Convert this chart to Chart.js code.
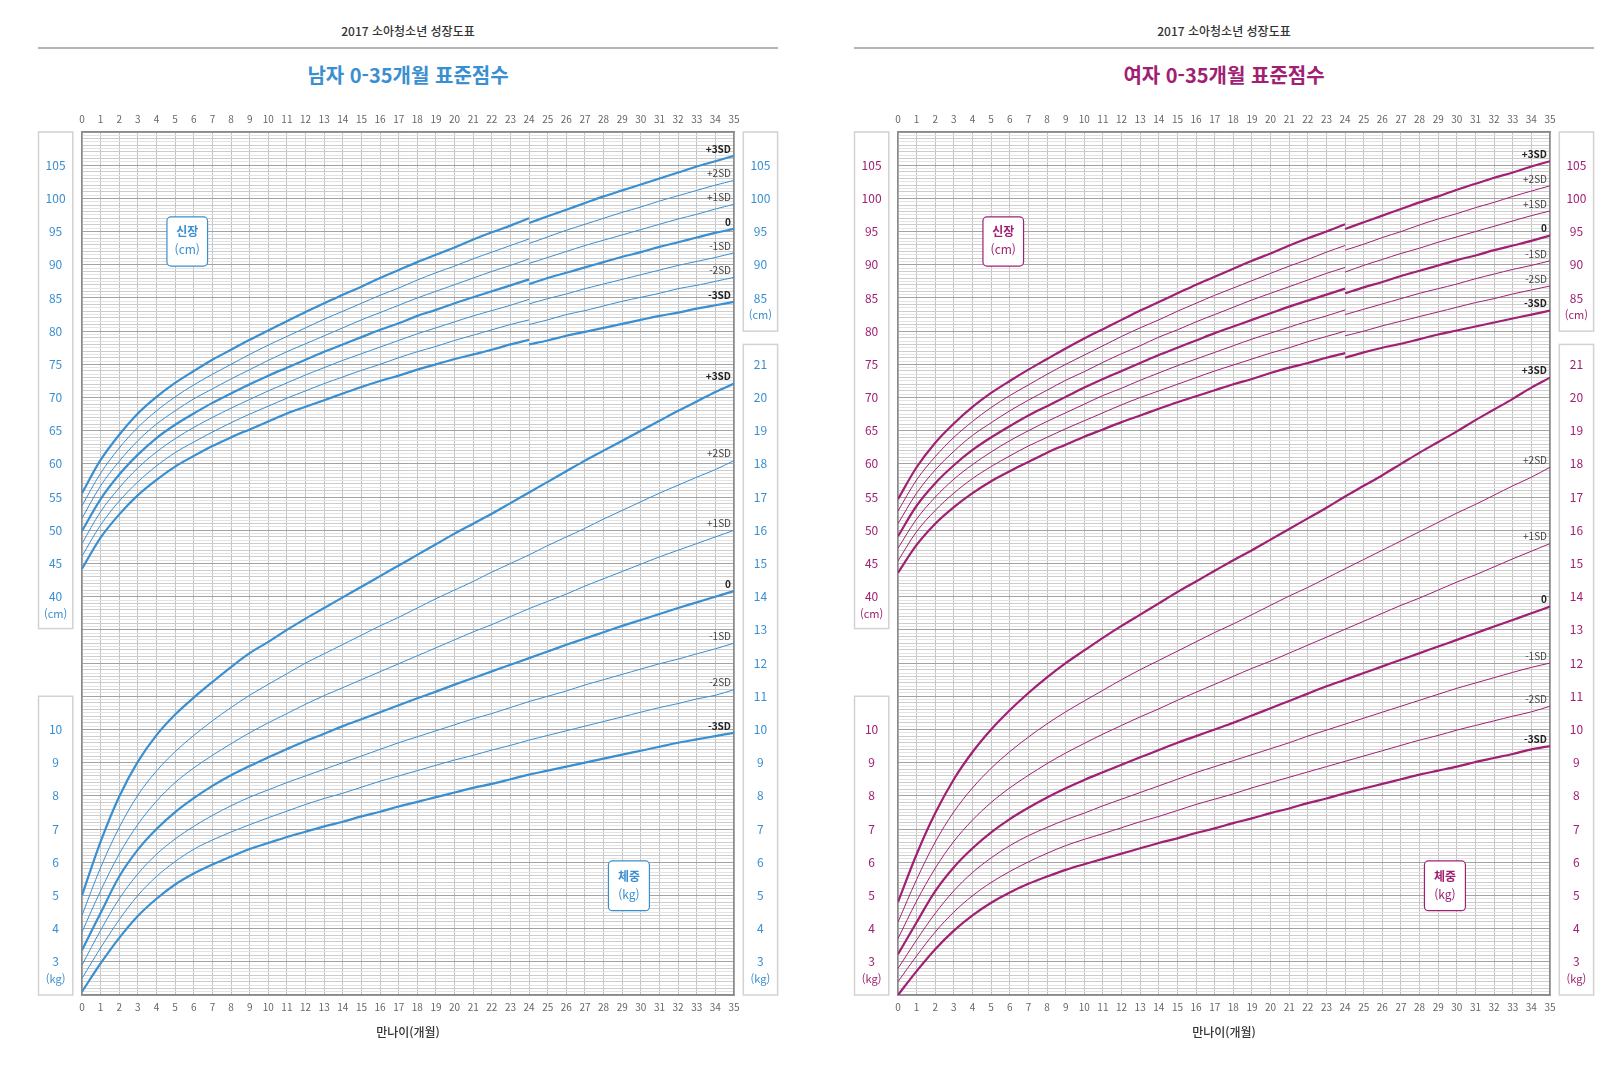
<!DOCTYPE html>
<html lang="ko">
<head>
<meta charset="utf-8">
<title>2017 소아청소년 성장도표</title>
<script src="https://cdn.jsdelivr.net/npm/chart.js@4.4.1/dist/chart.umd.min.js"></script>
<style>
  html, body { margin: 0; padding: 0; background: #fff; }
  body { width: 1623px; height: 1080px; position: relative; overflow: hidden;
         font-family: "Noto Sans CJK KR", "Noto Sans", sans-serif; }
  .panel { position: absolute; top: 0; width: 800px; height: 1080px; }
  .panel canvas { position: absolute; left: 0; top: 0; }
  .head { position: absolute; left: 0; width: 816px; top: 21.5px; height: 18px; line-height: 18px;
          font-size: 12px; font-weight: 500; color: #333; text-align: center; }
  .rule { position: absolute; left: 38px; width: 740px; top: 46.5px; height: 2px; background: #b4b4b4; }
  .sub { position: absolute; left: 0; width: 816px; top: 61px; height: 28px; line-height: 28px;
         font-size: 20px; font-weight: 700; text-align: center; }
</style>
</head>
<body>
<div class="panel" style="left:0">
  <div class="head">2017 소아청소년 성장도표</div>
  <div class="rule"></div>
  <div class="sub" style="color:#3a8fd0">남자 0-35개월 표준점수</div>
  <canvas id="boys" width="800" height="1080"></canvas>
</div>
<div class="panel" style="left:816px">
  <div class="head">2017 소아청소년 성장도표</div>
  <div class="rule"></div>
  <div class="sub" style="color:#a02073">여자 0-35개월 표준점수</div>
  <canvas id="girls" width="800" height="1080"></canvas>
</div>
<script>
// months on the x axis
const MONTHS = [0,1,2,3,4,5,6,7,8,9,10,11,12,13,14,15,16,17,18,19,20,21,22,23,24,25,26,27,28,29,30,31,32,33,34,35];
const LEN_MONTHS = [0,1,2,3,4,5,6,7,8,9,10,11,12,13,14,15,16,17,18,19,20,21,22,23,24];
const HT_MONTHS = [24,25,26,27,28,29,30,31,32,33,34,35];
const SD_NAMES = ['-3SD','-2SD','-1SD','0','+1SD','+2SD','+3SD'];

// boys, length 0-24 months (cm), rows -3SD .. +3SD
const boysLength = [
  [44.2,48.9,52.4,55.3,57.6,59.6,61.2,62.7,64.0,65.2,66.4,67.6,68.6,69.6,70.6,71.6,72.5,73.3,74.2,75.0,75.8,76.5,77.2,78.0,78.7],
  [46.1,50.8,54.4,57.3,59.7,61.7,63.3,64.8,66.2,67.5,68.7,69.9,71.0,72.1,73.1,74.1,75.0,76.0,76.9,77.7,78.6,79.4,80.2,81.0,81.7],
  [48.0,52.8,56.4,59.4,61.8,63.8,65.5,67.0,68.4,69.7,71.0,72.2,73.4,74.5,75.6,76.6,77.6,78.6,79.6,80.5,81.4,82.3,83.1,83.9,84.8],
  [49.9,54.7,58.4,61.4,63.9,65.9,67.6,69.2,70.6,72.0,73.3,74.5,75.7,76.9,78.0,79.1,80.2,81.2,82.3,83.2,84.2,85.1,86.0,86.9,87.8],
  [51.8,56.7,60.4,63.5,66.0,68.0,69.8,71.3,72.8,74.2,75.6,76.9,78.1,79.3,80.5,81.7,82.8,83.9,85.0,86.0,87.0,88.0,89.0,89.9,90.9],
  [53.7,58.6,62.4,65.5,68.0,70.1,71.9,73.5,75.0,76.5,77.9,79.2,80.5,81.8,83.0,84.2,85.4,86.5,87.7,88.8,89.8,90.9,91.9,92.9,93.9],
  [55.6,60.6,64.4,67.6,70.1,72.2,74.0,75.7,77.2,78.7,80.1,81.5,82.9,84.2,85.5,86.7,88.0,89.2,90.4,91.5,92.6,93.8,94.9,95.9,97.0]
];
// boys, height 24-35 months (cm)
const boysHeight = [
  [78.0,78.6,79.3,79.9,80.5,81.1,81.7,82.3,82.8,83.4,83.9,84.4],
  [81.0,81.7,82.5,83.1,83.8,84.5,85.1,85.7,86.4,86.9,87.5,88.1],
  [84.1,84.9,85.6,86.4,87.1,87.8,88.5,89.2,89.9,90.5,91.1,91.8],
  [87.1,88.0,88.8,89.6,90.4,91.2,91.9,92.7,93.4,94.1,94.8,95.4],
  [90.2,91.1,92.0,92.9,93.7,94.5,95.3,96.1,96.9,97.6,98.4,99.1],
  [93.2,94.2,95.2,96.1,97.0,97.9,98.7,99.6,100.4,101.2,102.0,102.7],
  [96.3,97.3,98.3,99.3,100.3,101.2,102.1,103.0,103.9,104.8,105.6,106.4]
];
// boys, weight 0-35 months (kg)
const boysWeight = [
  [2.10,2.95,3.72,4.38,4.90,5.33,5.66,5.93,6.17,6.40,6.58,6.76,6.92,7.08,7.22,7.38,7.52,7.68,7.82,7.96,8.10,8.24,8.36,8.50,8.64,8.76,8.88,9.00,9.12,9.24,9.36,9.48,9.60,9.70,9.80,9.90],
  [2.50,3.42,4.27,5.00,5.57,6.02,6.39,6.67,6.91,7.13,7.34,7.54,7.74,7.92,8.08,8.26,8.44,8.60,8.76,8.92,9.08,9.22,9.38,9.52,9.68,9.82,9.96,10.10,10.24,10.38,10.52,10.66,10.78,10.92,11.03,11.20],
  [2.90,3.95,4.90,5.65,6.24,6.70,7.08,7.41,7.70,7.96,8.18,8.40,8.60,8.80,9.00,9.20,9.40,9.60,9.78,9.96,10.14,10.32,10.48,10.66,10.84,11.00,11.16,11.34,11.50,11.66,11.82,11.98,12.12,12.28,12.43,12.60],
  [3.35,4.47,5.57,6.38,7.00,7.51,7.93,8.30,8.62,8.90,9.16,9.41,9.65,9.87,10.10,10.31,10.52,10.73,10.94,11.14,11.35,11.55,11.75,11.95,12.15,12.35,12.55,12.74,12.93,13.12,13.30,13.48,13.66,13.83,14.00,14.17],
  [3.90,5.14,6.25,7.14,7.84,8.40,8.84,9.22,9.57,9.90,10.20,10.48,10.76,11.02,11.26,11.50,11.74,11.98,12.22,12.46,12.70,12.94,13.16,13.40,13.64,13.86,14.08,14.32,14.54,14.76,14.98,15.20,15.40,15.60,15.80,16.00],
  [4.40,5.84,7.05,8.02,8.75,9.33,9.82,10.26,10.66,11.03,11.36,11.68,12.00,12.28,12.56,12.84,13.12,13.38,13.66,13.94,14.20,14.46,14.74,15.00,15.26,15.54,15.80,16.06,16.34,16.60,16.86,17.12,17.36,17.60,17.83,18.10],
  [5.00,6.62,7.98,9.03,9.83,10.45,10.96,11.43,11.88,12.30,12.64,13.00,13.34,13.66,13.98,14.30,14.62,14.94,15.26,15.58,15.90,16.20,16.50,16.82,17.14,17.46,17.78,18.10,18.40,18.70,19.00,19.30,19.60,19.88,20.17,20.42]
];

// girls, length 0-24 months (cm)
const girlsLength = [
  [43.6,47.8,51.0,53.5,55.6,57.4,58.9,60.3,61.7,62.9,64.1,65.2,66.3,67.3,68.3,69.3,70.2,71.1,72.0,72.8,73.7,74.5,75.2,76.0,76.7],
  [45.4,49.8,53.0,55.6,57.8,59.6,61.2,62.7,64.0,65.3,66.5,67.7,68.9,70.0,71.0,72.0,73.0,74.0,74.9,75.8,76.7,77.5,78.4,79.2,80.0],
  [47.3,51.7,55.0,57.7,59.9,61.8,63.5,65.0,66.4,67.7,69.0,70.3,71.4,72.6,73.7,74.8,75.8,76.8,77.8,78.8,79.7,80.6,81.5,82.3,83.2],
  [49.1,53.7,57.1,59.8,62.1,64.0,65.7,67.3,68.7,70.1,71.5,72.8,74.0,75.2,76.4,77.5,78.6,79.7,80.7,81.7,82.7,83.7,84.6,85.5,86.4],
  [51.0,55.6,59.1,61.9,64.3,66.2,68.0,69.6,71.1,72.6,73.9,75.3,76.6,77.8,79.1,80.2,81.4,82.5,83.6,84.7,85.7,86.7,87.7,88.7,89.6],
  [52.9,57.6,61.1,64.0,66.4,68.5,70.3,71.9,73.5,75.0,76.4,77.8,79.2,80.5,81.7,83.0,84.2,85.4,86.5,87.6,88.7,89.8,90.8,91.9,92.9],
  [54.7,59.5,63.2,66.1,68.6,70.7,72.5,74.2,75.8,77.4,78.9,80.3,81.7,83.1,84.4,85.7,87.0,88.2,89.4,90.6,91.7,92.9,94.0,95.0,96.1]
];
// girls, height 24-35 months (cm)
const girlsHeight = [
  [76.0,76.8,77.5,78.1,78.8,79.5,80.1,80.7,81.3,81.9,82.5,83.1],
  [79.3,80.0,80.8,81.5,82.2,82.9,83.6,84.3,84.9,85.6,86.2,86.8],
  [82.5,83.3,84.1,84.9,85.7,86.4,87.1,87.9,88.6,89.3,89.9,90.6],
  [85.7,86.6,87.4,88.3,89.1,89.9,90.7,91.4,92.2,92.9,93.6,94.4],
  [88.9,89.9,90.8,91.7,92.5,93.4,94.2,95.0,95.8,96.6,97.4,98.1],
  [92.2,93.1,94.1,95.0,96.0,96.9,97.7,98.6,99.4,100.3,101.1,101.9],
  [95.4,96.4,97.4,98.4,99.4,100.3,101.3,102.2,103.1,103.9,104.8,105.6]
];
// girls, weight 0-35 months (kg)
const girlsWeight = [
  [2.00,2.72,3.38,3.94,4.40,4.78,5.09,5.35,5.57,5.77,5.94,6.10,6.26,6.42,6.58,6.72,6.88,7.02,7.18,7.32,7.48,7.62,7.78,7.92,8.08,8.22,8.36,8.50,8.64,8.76,8.88,9.02,9.14,9.26,9.40,9.50],
  [2.40,3.18,3.90,4.50,4.99,5.39,5.72,6.01,6.27,6.50,6.69,6.86,7.04,7.22,7.38,7.56,7.74,7.90,8.06,8.24,8.40,8.56,8.72,8.88,9.04,9.20,9.36,9.52,9.68,9.82,9.98,10.12,10.26,10.40,10.53,10.70],
  [2.80,3.66,4.46,5.14,5.69,6.13,6.50,6.80,7.05,7.28,7.48,7.70,7.90,8.10,8.30,8.50,8.70,8.88,9.06,9.24,9.42,9.60,9.80,9.98,10.16,10.34,10.52,10.70,10.88,11.06,11.24,11.40,11.56,11.72,11.87,12.00],
  [3.23,4.19,5.13,5.85,6.42,6.90,7.30,7.64,7.95,8.23,8.48,8.71,8.94,9.16,9.38,9.60,9.80,10.00,10.20,10.42,10.64,10.86,11.08,11.30,11.50,11.70,11.90,12.10,12.30,12.50,12.70,12.90,13.10,13.30,13.50,13.70],
  [3.70,4.83,5.82,6.63,7.27,7.80,8.24,8.62,8.97,9.29,9.58,9.86,10.12,10.38,10.62,10.88,11.12,11.36,11.60,11.84,12.06,12.30,12.54,12.78,13.02,13.26,13.50,13.74,13.96,14.20,14.44,14.66,14.90,15.14,15.37,15.60],
  [4.20,5.48,6.61,7.52,8.24,8.83,9.33,9.77,10.17,10.53,10.86,11.18,11.50,11.80,12.08,12.36,12.64,12.92,13.18,13.46,13.74,14.02,14.28,14.56,14.84,15.12,15.40,15.68,15.96,16.24,16.52,16.78,17.06,17.34,17.60,17.90],
  [4.80,6.24,7.48,8.50,9.32,10.00,10.58,11.10,11.57,12.00,12.38,12.76,13.12,13.46,13.80,14.14,14.46,14.78,15.10,15.40,15.72,16.04,16.36,16.68,17.02,17.34,17.66,18.00,18.34,18.66,18.98,19.32,19.64,19.96,20.30,20.60]
];

// axis ranges: one grid, 5 cm = 1 kg
const HEIGHT_MIN = -20, HEIGHT_MAX = 110;
const WEIGHT_MIN = 2, WEIGHT_MAX = 28;

const FONT = '"Noto Sans CJK KR", "Noto Sans", sans-serif';
Chart.defaults.font.family = FONT;

const AXW = 44;          // width of each side axis
const GRID_MONTH = '#c2c2c2';
const FRAME = '#8a8a8a';

function halfCmColor(ctx) {
  const k = Math.round(ctx.tick.value * 2);
  if (k % 10 === 0) return '#a3a3a3';
  if (k % 2 === 0) return '#cdcdcd';
  return '#e3e3e3';
}

// label of the left axis: cm on top, kg below
function leftLabel(v) {
  const k = Math.round(v * 2);
  if (k % 10 !== 0) return '';
  const h = k / 2;
  if (h >= 40 && h <= 105) return String(h);
  if (h >= -15 && h <= 20) return String((h + 30) / 5);
  return '';
}
// label of the right axis (kg units): kg low, cm high
function rightLabel(w) {
  const r = Math.round(w);
  if (r >= 3 && r <= 21) return String(r);
  if (r >= 23 && r <= 27) return String(r * 5 - 30);
  return '';
}

const sideBoxes = {
  id: 'sideBoxes',
  beforeDraw(chart) {
    const { ctx, chartArea: a, scales } = chart;
    const yh = scales.y, yw = scales.y2;
    const th = chart.options.plugins.sideBoxes;
    const boxes = [
      [a.left - 43.5, a.top, yh.getPixelForValue(35.2)],
      [a.left - 43.5, yw.getPixelForValue(11.0), a.bottom],
      [a.right + 9.3, a.top, yh.getPixelForValue(80.0)],
      [a.right + 9.3, yw.getPixelForValue(21.6), a.bottom]
    ];
    ctx.save();
    ctx.strokeStyle = '#d2d2d2';
    ctx.lineWidth = 1.5;
    boxes.forEach(([x, t, b]) => {
      ctx.fillStyle = '#fff';
      ctx.fillRect(x, t, 34.3, b - t);
      ctx.strokeRect(x, t, 34.3, b - t);
    });
    // unit captions under the last numbers
    ctx.fillStyle = th.color;
    ctx.font = '11px ' + FONT;
    ctx.textAlign = 'center';
    ctx.textBaseline = 'middle';
    const lx = a.left - 26.4, rx = a.right + 26.4;
    ctx.fillText('(cm)', lx, yh.getPixelForValue(40) + 17);
    ctx.fillText('(kg)', lx, yw.getPixelForValue(3) + 17);
    ctx.fillText('(cm)', rx, yh.getPixelForValue(85) + 17);
    ctx.fillText('(kg)', rx, yw.getPixelForValue(3) + 17);
    ctx.restore();
  }
};

const tagBoxes = {
  id: 'tagBoxes',
  beforeDatasetsDraw(chart) {
    const { ctx, scales } = chart;
    const th = chart.options.plugins.tagBoxes;
    const x = scales.x, yh = scales.y, yw = scales.y2;
    const tags = [
      { x0: 4.56, x1: 6.74, top: yh.getPixelForValue(97.2), bot: yh.getPixelForValue(89.8),
        t1: '신장', y1: yh.getPixelForValue(95.0), t2: '(cm)', y2: yh.getPixelForValue(92.35) },
      { x0: 28.26, x1: 30.46, top: yw.getPixelForValue(6.04), bot: yw.getPixelForValue(4.54),
        t1: '체중', y1: yw.getPixelForValue(5.56), t2: '(kg)', y2: yw.getPixelForValue(5.03) }
    ];
    ctx.save();
    tags.forEach(g => {
      const l = x.getPixelForValue(g.x0), r = x.getPixelForValue(g.x1);
      ctx.beginPath();
      ctx.roundRect(l, g.top, r - l, g.bot - g.top, 4);
      ctx.fillStyle = '#fff';
      ctx.fill();
      ctx.strokeStyle = th.color;
      ctx.lineWidth = 1.2;
      ctx.stroke();
      ctx.fillStyle = th.color;
      ctx.textAlign = 'center';
      ctx.textBaseline = 'middle';
      ctx.font = 'bold 12px ' + FONT;
      ctx.fillText(g.t1, (l + r) / 2, g.y1);
      ctx.font = '12px ' + FONT;
      ctx.fillText(g.t2, (l + r) / 2, g.y2);
    });
    ctx.restore();
  }
};

const sdLabels = {
  id: 'sdLabels',
  afterDatasetsDraw(chart) {
    const { ctx, chartArea: a } = chart;
    chart.data.datasets.forEach((ds, i) => {
      if (!ds.endLabel) return;
      const pts = chart.getDatasetMeta(i).data;
      const p = pts[pts.length - 1];
      const bold = ds.label === '+3SD' || ds.label === '-3SD' || ds.label === '0';
      ctx.save();
      ctx.font = (bold ? 'bold ' : '') + '10px ' + FONT;
      ctx.fillStyle = bold ? '#222' : '#444';
      ctx.textAlign = 'right';
      ctx.textBaseline = 'middle';
      ctx.fillText(ds.label, a.right - 3, p.y - 7);
      ctx.restore();
    });
  }
};

function series(xs, ys) {
  return xs.map((m, i) => ({ x: m, y: ys[i] }));
}

function buildDatasets(color, lengthRows, heightRows, weightRows) {
  const sets = [];
  SD_NAMES.forEach((name, s) => {
    const w = (s === 0 || s === 3 || s === 6) ? 2.2 : 1;
    const common = { label: name, borderColor: color, borderWidth: w, pointRadius: 0,
                     fill: false, tension: 0.35 };
    sets.push({ ...common, yAxisID: 'y', data: series(LEN_MONTHS, lengthRows[s]) });
    sets.push({ ...common, yAxisID: 'y', endLabel: true, data: series(HT_MONTHS, heightRows[s]) });
    sets.push({ ...common, yAxisID: 'y2', endLabel: true, data: series(MONTHS, weightRows[s]) });
  });
  return sets;
}

function makeChart(id, color, lengthRows, heightRows, weightRows) {
  const m = document.createElement('canvas').getContext('2d');
  m.font = '12px ' + FONT;
  const half = m.measureText('105').width / 2;
  const sideFont = { size: 12 };

  return new Chart(document.getElementById(id), {
    type: 'line',
    data: { datasets: buildDatasets(color, lengthRows, heightRows, weightRows) },
    plugins: [sideBoxes, tagBoxes, sdLabels],
    options: {
      responsive: false,
      animation: false,
      devicePixelRatio: 1,
      layout: { padding: { left: 38, right: 22, top: 102, bottom: 35 } },
      plugins: {
        legend: { display: false },
        tooltip: { enabled: false },
        sideBoxes: { color },
        tagBoxes: { color }
      },
      scales: {
        x: {
          type: 'linear', position: 'bottom', min: 0, max: 35,
          afterFit: s => { s.height = 50; },
          border: { display: true, color: FRAME, width: 1.5 },
          grid: { drawTicks: false, color: GRID_MONTH, lineWidth: 1 },
          ticks: { stepSize: 1, autoSkip: false, maxRotation: 0, padding: 6,
                   color: '#666', font: { size: 10 } },
          title: { display: true, text: '만나이(개월)', color: '#333',
                   font: { size: 12, weight: '500' }, padding: { top: 0, bottom: 5 } }
        },
        xTop: {
          type: 'linear', position: 'top', min: 0, max: 35,
          afterFit: s => { s.height = 30; },
          border: { display: true, color: FRAME, width: 1.5 },
          grid: { display: false, drawTicks: false },
          ticks: { stepSize: 1, autoSkip: false, maxRotation: 0, padding: 6.7,
                   color: '#666', font: { size: 10 } }
        },
        y: {
          type: 'linear', position: 'left', min: HEIGHT_MIN, max: HEIGHT_MAX,
          afterFit: s => { s.width = AXW; },
          border: { display: true, color: FRAME, width: 1.5 },
          grid: { drawTicks: false, color: halfCmColor, lineWidth: 1 },
          ticks: { stepSize: 0.5, autoSkip: false, crossAlign: 'center', padding: 26.4 - half,
                   color, font: sideFont, callback: leftLabel }
        },
        y2: {
          type: 'linear', position: 'right', min: WEIGHT_MIN, max: WEIGHT_MAX,
          afterFit: s => { s.width = AXW; },
          border: { display: true, color: FRAME, width: 1.5 },
          grid: { display: false, drawTicks: false },
          ticks: { stepSize: 1, autoSkip: false, crossAlign: 'center', padding: 26.4 - half,
                   color, font: sideFont, callback: rightLabel }
        }
      }
    }
  });
}

makeChart('boys', '#3a8fd0', boysLength, boysHeight, boysWeight);
makeChart('girls', '#a02073', girlsLength, girlsHeight, girlsWeight);
</script>
</body>
</html>
